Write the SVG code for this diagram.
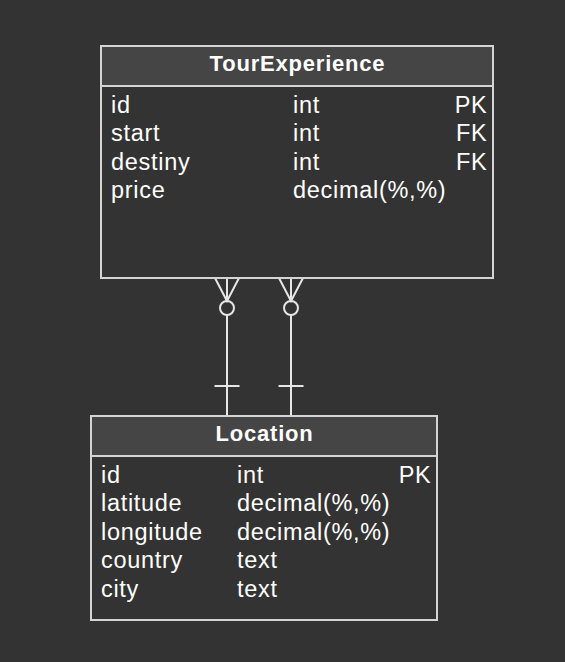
<svg xmlns="http://www.w3.org/2000/svg" width="565" height="662" viewBox="0 0 565 662">
<style>
.box{fill:#333333;stroke:#d4d4d4;stroke-width:2}
.hdr{fill:#454545;stroke:#d4d4d4;stroke-width:2}
.t{font-family:"Liberation Sans",Arial,sans-serif;font-size:23.5px;fill:#ffffff;letter-spacing:0.7px}
.h{font-family:"Liberation Sans",Arial,sans-serif;font-size:22px;font-weight:bold;fill:#ffffff;text-anchor:middle;letter-spacing:0.8px}
.r{text-anchor:end}
.c{fill:none;stroke:#e6e6e6;stroke-width:2}
</style>
<rect width="565" height="662" fill="#333333"/>
<g id="connectors">
<path class="c" d="M227 278V301M215 278L227 301L239 278M227 315V416M214.5 386H239.5"/>
<circle class="c" cx="227" cy="308" r="7"/>
<path class="c" d="M291 278V301M279 278L291 301L303 278M291 315V416M278.5 386H303.5"/>
<circle class="c" cx="291" cy="308" r="7"/>
</g>
<g id="TourExperience">
<rect class="box" x="101" y="46" width="392" height="232"/>
<rect class="hdr" x="101" y="46" width="392" height="40"/>
<text class="h" x="297.5" y="71">TourExperience</text>
<text class="t" x="111" y="112.5">id</text>
<text class="t" x="293" y="112.5">int</text>
<text class="t r" x="487.5" y="112.5">PK</text>
<text class="t" x="111" y="141">start</text>
<text class="t" x="293" y="141">int</text>
<text class="t r" x="487.5" y="141">FK</text>
<text class="t" x="111" y="169.5">destiny</text>
<text class="t" x="293" y="169.5">int</text>
<text class="t r" x="487.5" y="169.5">FK</text>
<text class="t" x="111" y="198">price</text>
<text class="t" x="293" y="198">decimal(%,%)</text>
</g>
<g id="Location">
<rect class="box" x="91" y="416" width="346" height="204"/>
<rect class="hdr" x="91" y="416" width="346" height="40"/>
<text class="h" x="264.5" y="441">Location</text>
<text class="t" x="101" y="482.5">id</text>
<text class="t" x="237" y="482.5">int</text>
<text class="t r" x="431.5" y="482.5">PK</text>
<text class="t" x="101" y="511">latitude</text>
<text class="t" x="237" y="511">decimal(%,%)</text>
<text class="t" x="101" y="539.5">longitude</text>
<text class="t" x="237" y="539.5">decimal(%,%)</text>
<text class="t" x="101" y="568">country</text>
<text class="t" x="237" y="568">text</text>
<text class="t" x="101" y="596.5">city</text>
<text class="t" x="237" y="596.5">text</text>
</g>
</svg>
